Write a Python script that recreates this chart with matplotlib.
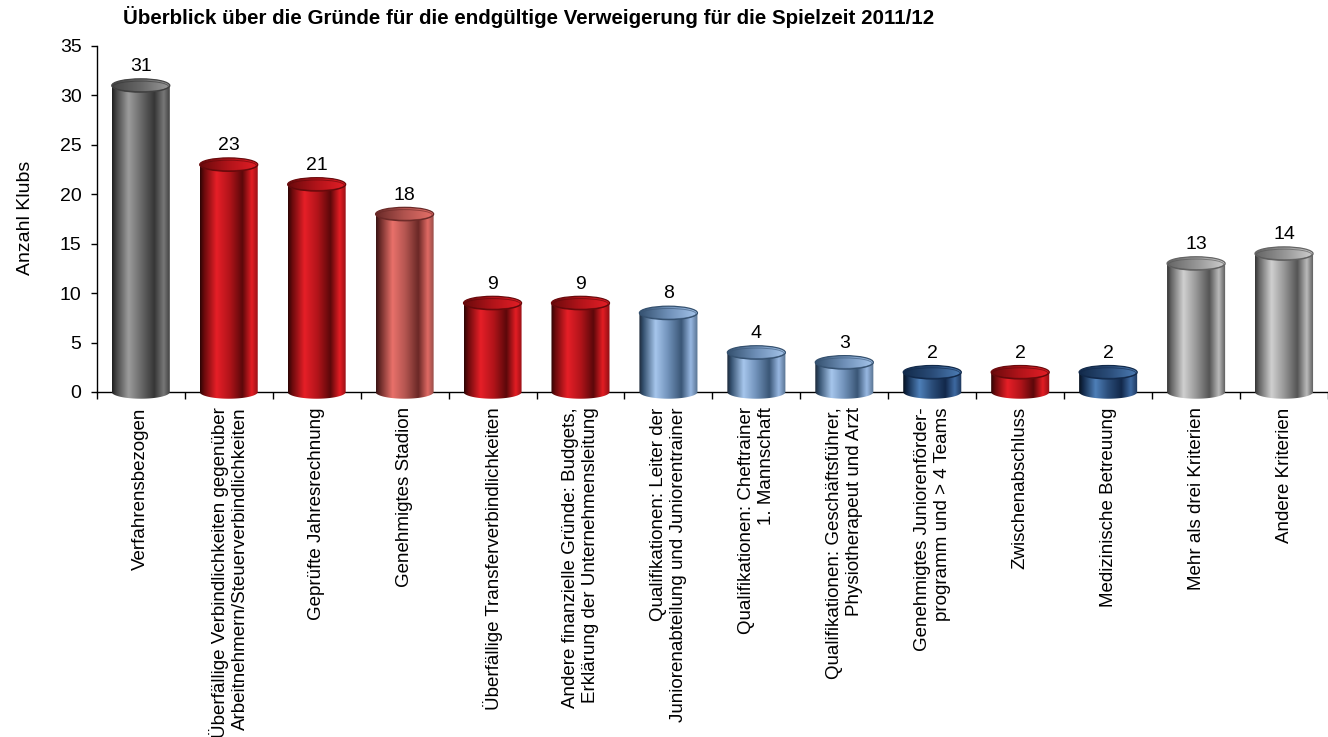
import numpy as np
import matplotlib.pyplot as plt
from matplotlib.colors import LinearSegmentedColormap
from matplotlib.patches import Ellipse, PathPatch
from matplotlib.path import Path

plt.rcParams["font.family"] = ["Liberation Sans", "DejaVu Sans"]

categories = [
    "Verfahrensbezogen",
    "Überfällige Verbindlichkeiten gegenüber\nArbeitnehmern/Steuerverbindlichkeiten",
    "Geprüfte Jahresrechnung",
    "Genehmigtes Stadion",
    "Überfällige Transferverbindlichkeiten",
    "Andere finanzielle Gründe: Budgets,\nErklärung der Unternehmensleitung",
    "Qualifikationen: Leiter der\nJuniorenabteilung und Juniorentrainer",
    "Qualifikationen: Cheftrainer\n1. Mannschaft",
    "Qualifikationen: Geschäftsführer,\nPhysiotherapeut und Arzt",
    "Genehmigtes Juniorenförder-\nprogramm und > 4 Teams",
    "Zwischenabschluss",
    "Medizinische Betreuung",
    "Mehr als drei Kriterien",
    "Andere Kriterien",
]
values = [31, 23, 21, 18, 9, 9, 8, 4, 3, 2, 2, 2, 13, 14]
yticks = [0, 5, 10, 15, 20, 25, 30, 35]

# shading of each cylinder, left to right
bar_palette = ["grey", "red", "red", "salmon", "red", "red",
               "lightblue", "lightblue", "lightblue", "navy", "red", "navy",
               "silver", "silver"]

STOPS = [0.0, 0.07, 0.28, 0.5, 0.72, 0.88, 1.0]
SHADES = {
    "grey":      ["#1e1e1e", "#444444", "#9c9c9c", "#686868", "#363636", "#787878", "#383838"],
    "red":       ["#2c0404", "#6a0a0c", "#e61f27", "#b3141a", "#5c080a", "#e41d24", "#8c0f14"],
    "salmon":    ["#3a1414", "#6a2a28", "#e9716a", "#b35550", "#6a2826", "#e06a64", "#8a4844"],
    "lightblue": ["#1c2838", "#34506e", "#a6c6ec", "#6f90b8", "#3a5676", "#98b8e2", "#56708e"],
    "navy":      ["#07111f", "#122a4a", "#4e7fb8", "#2a4c78", "#12284a", "#3e6aa2", "#1c3458"],
    "silver":    ["#343434", "#646464", "#d0d0d0", "#969696", "#555555", "#bababa", "#555555"],
}

W, H = 1328, 737
fig = plt.figure(figsize=(W / 100, H / 100), dpi=100)

ymin = -0.9
px_per_unit = 346 / 35
ax_bottom = 392 + (-ymin) * px_per_unit
ax = fig.add_axes([96.8 / W, (H - ax_bottom) / H, (W - 96.8) / W, (ax_bottom - 46) / H])
ax.set_ylim(ymin, 35)
ax.set_xlim(-0.5, (W - 96.8) / 89.2 - 0.5)

bar_w = 0.66
ry = 0.68
grad = np.linspace(0, 1, 256).reshape(1, -1)


def cylinder(ax, x, v, shade):
    cols = SHADES[shade]
    body_cmap = LinearSegmentedColormap.from_list(shade, list(zip(STOPS, cols)))
    top_cmap = LinearSegmentedColormap.from_list(shade + "_top", [cols[1], cols[3], cols[2]])
    x0, x1 = x - bar_w / 2, x + bar_w / 2

    # body: rectangle plus the lower half of the base ellipse
    t = np.linspace(np.pi, 2 * np.pi, 60)
    verts = [(x + bar_w / 2 * np.cos(a), ry * np.sin(a)) for a in t]
    verts += [(x1, v), (x0, v), verts[0]]
    codes = [Path.MOVETO] + [Path.LINETO] * (len(verts) - 2) + [Path.CLOSEPOLY]
    body = PathPatch(Path(verts, codes), transform=ax.transData, facecolor="none", edgecolor="none")
    ax.add_patch(body)
    im = ax.imshow(grad, cmap=body_cmap, extent=[x0, x1, -ry, v], aspect="auto",
                   interpolation="bilinear", zorder=3)
    im.set_clip_path(body)

    # top cap
    cap = Ellipse((x, v), bar_w, 2 * ry, transform=ax.transData, facecolor="none", edgecolor="none")
    ax.add_patch(cap)
    im2 = ax.imshow(grad, cmap=top_cmap, extent=[x0, x1, v - ry, v + ry], aspect="auto",
                    interpolation="bilinear", zorder=4)
    im2.set_clip_path(cap)
    ax.add_patch(Ellipse((x, v), bar_w, 2 * ry, facecolor="none", edgecolor=cols[1],
                         lw=0.9, zorder=5))
    ax.add_patch(Ellipse((x, v - ry * 0.12), bar_w * 0.95, 2 * ry * 0.78, facecolor="none",
                         edgecolor=cols[4], lw=0.7, alpha=0.6, zorder=5))


xs = np.arange(len(values))
for x, v, shade in zip(xs, values, bar_palette):
    cylinder(ax, x, v, shade)
    ax.annotate(str(v), (x, v), xytext=(0, 10.4), textcoords="offset points",
                ha="center", va="baseline", fontsize=14, zorder=6)

ax.spines["top"].set_visible(False)
ax.spines["right"].set_visible(False)
ax.spines["bottom"].set_position(("data", 0))
ax.spines["left"].set_bounds(0, 35)
for sp in ("left", "bottom"):
    ax.spines[sp].set_linewidth(1.0)

ax.set_yticks(yticks)
ax.tick_params(axis="y", direction="out", length=4, width=1, labelsize=14, pad=7)
ax.set_xticks(xs)
ax.set_xticklabels(categories, rotation=90, fontsize=13.5, ha="center", va="top",
                   multialignment="right", linespacing=1.25)
ax.set_xticks(np.arange(len(values) + 1) - 0.5, minor=True)
ax.tick_params(axis="x", which="major", length=0, pad=11)
ax.tick_params(axis="x", which="minor", direction="out", length=5, width=1)

fig.text(26 / W, 1 - 218 / H, "Anzahl Klubs", rotation=90, ha="center", va="center", fontsize=14)
fig.text(123 / W, 1 - 17 / H,
         "Überblick über die Gründe für die endgültige Verweigerung für die Spielzeit 2011/12",
         ha="left", va="center", fontsize=14.8, fontweight="bold")

fig.savefig("out.png", dpi=100)
